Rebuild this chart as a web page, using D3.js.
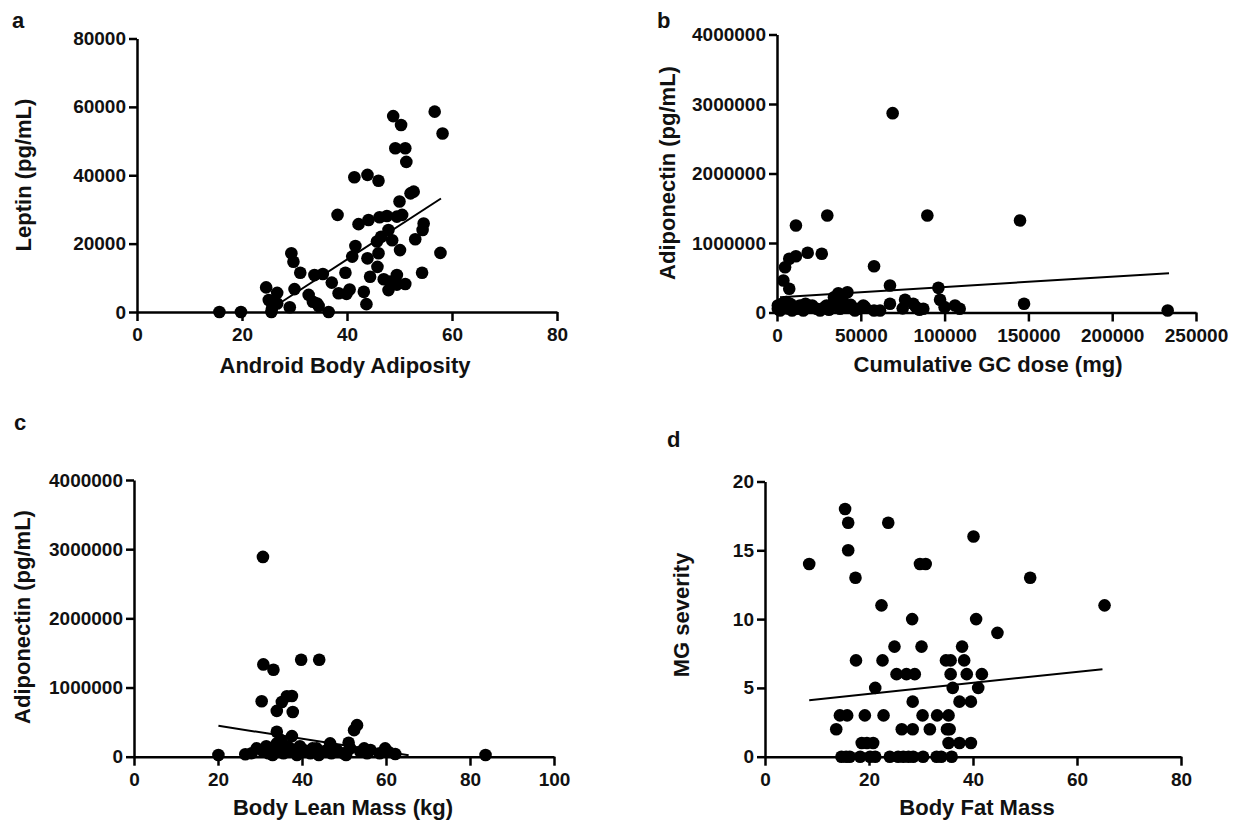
<!DOCTYPE html>
<html>
<head>
<meta charset="utf-8">
<style>
body { margin: 0; background: #fff; }
svg text { font-family: "Liberation Sans", Arial, sans-serif; fill: #111; }
.axis path, .axis line { stroke: #000; stroke-width: 2.5; }
.axis text { font-size: 19px; font-weight: bold; }
.title { font-size: 22px; font-weight: bold; }
.letter { font-size: 22px; font-weight: bold; }
</style>
</head>
<body>
<svg width="1237" height="825"></svg>
<script src="https://d3js.org/d3.v7.min.js"></script>
<script>
// panel a: leptin vs android adiposity
var leptinPts = [[15.7,0],[19.8,0],[24.6,7200],[25.1,3500],[26.7,5600],[25.7,1000],[25.6,0],[29.1,1400],
  [29.4,17200],[29.8,14700],[31.1,11500],[30.0,6700],[32.7,5000],[33.5,3000],[34.6,1750],[36.5,0],
  [33.8,10800],[35.4,11100],[37.1,8600],[38.2,28400],[39.7,11500],[38.4,5500],[40.5,6600],[39.9,5300],
  [43.2,5900],[43.7,2300],[41.0,16200],[41.6,19300],[41.4,39400],[43.9,40100],[46.0,38400],[42.2,25700],
  [44.1,26900],[46.2,27700],[47.6,28100],[43.9,15700],[44.4,10300],[45.8,13200],[46.0,17200],[46.5,22000],
  [47.9,24000],[48.6,21000],[47.0,9600],[47.9,6400],[49.5,10800],[51.1,8200],[50.1,18100],[50.5,28400],
  [50.0,32300],[52.1,34700],[52.7,35200],[48.8,57300],[50.3,54700],[49.2,47900],[51.1,47900],[51.3,43900],
  [56.7,58600],[58.2,52200],[53.0,21300],[54.6,25900],[54.4,24000],[54.3,11500],[57.8,17300],[49.5,27900],
  [34.3,2500],[26.7,2500],[49.5,8000],[45.7,20600],[48.2,8900]];
var leptinFit = [[27.6,3000],[57.9,33200]];

// panel b: adiponectin vs cumulative GC dose
var gcPts = [[69000,2868000],[30000,1396000],[89700,1396000],[145000,1324000],[11300,1252000],[18300,859000],
  [26700,845000],[11300,810000],[7300,773000],[4800,652000],[57900,666000],[3800,460000],[7300,341000],
  [67400,388000],[96300,355000],[97300,183000],[36600,278000],[42000,292000],[147400,125000],[233100,29000],
  [106200,101000],[76400,183000],[81300,125000],[87300,53000],[61500,29000],[67400,125000],[51500,101000],
  [500,53000],[500,101000],[1800,29000],[3800,77000],[7800,125000],[11700,53000],[13700,101000],[15700,29000],
  [19700,77000],[23700,53000],[25700,29000],[29600,101000],[33600,125000],[37600,53000],[41600,77000],
  [46500,29000],[48500,53000],[52500,77000],[9000,29000],[17000,125000],[21000,101000],[5500,150000],
  [100000,77000],[109000,53000],[83000,77000],[34000,220000],[39000,200000],[75000,60000],[85000,40000],
  [35000,130000],[57900,29000],[2500,120000],[6000,60000],[10000,90000],[14000,60000],[28000,70000],
  [44000,110000],[31000,40000]];
var gcFit = [[1800,221000],[233900,566000]];

// panel c: adiponectin vs lean mass
var leanPts = [[30.7,2888000],[30.8,1334000],[33.2,1257000],[39.8,1401000],[44.1,1401000],[30.4,801000],
  [34.0,662000],[35.2,791000],[36.4,873000],[37.6,878000],[37.8,647000],[53.1,456000],[52.4,384000],
  [34.0,360000],[37.6,298000],[20.1,24000],[26.5,35000],[83.7,24000],[59.8,121000],[62.2,39000],
  [46.7,193000],[51.1,201000],[56.3,96000],[29.2,121000],[30.8,72000],[32.4,96000],[34.0,193000],
  [35.6,49000],[37.2,121000],[38.8,24000],[40.4,96000],[42.0,49000],[43.5,121000],[45.1,72000],
  [48.3,96000],[49.9,49000],[51.5,121000],[53.9,72000],[55.5,49000],[31.5,150000],[33.0,24000],
  [35.0,240000],[36.5,150000],[39.5,150000],[41.0,72000],[44.0,24000],[47.0,49000],[50.5,24000],
  [54.8,121000],[58.5,49000],[28.0,49000],[60.5,72000],[32.0,49000],[38.0,72000],[42.5,121000],
  [46.0,96000],[33.5,121000],[36.0,96000]];
var leanFit = [[20.1,446000],[65.4,20000]];

// panel d: MG severity vs fat mass
var fatPts = [[15.4,18],[16.0,17],[23.7,17],[40.1,16],[16.0,15],[8.5,14],[29.8,14],[30.9,14],[17.4,13],
  [51.0,13],[22.4,11],[65.3,11],[28.3,10],[40.6,10],[44.7,9],[24.9,8],[30.1,8],[37.9,8],[17.5,7],[22.6,7],
  [34.8,7],[35.7,7],[38.3,7],[25.3,6],[27.2,6],[28.8,6],[35.7,6],[38.8,6],[41.7,6],[21.2,5],[36.1,5],
  [41.0,5],[28.4,4],[37.4,4],[39.6,4],[14.4,3],[15.8,3],[19.2,3],[22.8,3],[30.3,3],[33.1,3],[35.3,3],
  [13.7,2],[26.3,2],[28.4,2],[31.7,2],[35.0,2],[35.5,2],[18.6,1],[19.6,1],[20.8,1],[35.3,1],[37.4,1],
  [39.6,1],[14.7,0],[15.6,0],[16.3,0],[18.3,0],[20.2,0],[21.2,0],[24.0,0],[25.6,0],[26.6,0],[27.6,0],
  [28.5,0],[30.4,0],[33.0,0],[33.9,0],[35.9,0]];
var fatFit = [[8.5,4.11],[64.9,6.36]];

// tick values
var ticksAdip = [0,20,40,60,80];
var ticksLeptin = [0,20000,40000,60000,80000];
var ticksGC = [0,50000,100000,150000,200000,250000];
var ticksAdipo = [0,1000000,2000000,3000000,4000000];
var ticksLean = [0,20,40,60,80,100];
var ticksSev = [0,5,10,15,20];

var svg = d3.select("svg");

var panels = [
  {letter:"a", lx:12, ly:28, pts:leptinPts, fit:leptinFit,
   xd:[0,80], xr:[137,557], yd:[0,80000], yr:[312,38.5], xt:ticksAdip, yt:ticksLeptin,
   xlab:"Android Body Adiposity", xlx:345, xly:373, ylab:"Leptin (pg/mL)", ylx:31, yly:175},
  {letter:"b", lx:657, ly:28, pts:gcPts, fit:gcFit,
   xd:[0,250000], xr:[777,1196], yd:[0,4000000], yr:[312.5,34.5], xt:ticksGC, yt:ticksAdipo,
   xlab:"Cumulative GC dose (mg)", xlx:988, xly:372, ylab:"Adiponectin (pg/mL)", ylx:675, yly:173},
  {letter:"c", lx:14, ly:430, pts:leanPts, fit:leanFit,
   xd:[0,100], xr:[134,554], yd:[0,4000000], yr:[756.7,480], xt:ticksLean, yt:ticksAdipo,
   xlab:"Body Lean Mass (kg)", xlx:343, xly:815, ylab:"Adiponectin (pg/mL)", ylx:30, yly:617},
  {letter:"d", lx:667, ly:447, pts:fatPts, fit:fatFit,
   xd:[0,80], xr:[765,1181], yd:[0,20], yr:[756.7,481.5], xt:ticksAdip, yt:ticksSev,
   xlab:"Body Fat Mass", xlx:977, xly:815, ylab:"MG severity", ylx:689, yly:615}
];

panels.forEach(function(p) {
  var x = d3.scaleLinear().domain(p.xd).range(p.xr);
  var y = d3.scaleLinear().domain(p.yd).range(p.yr);
  var g = svg.append("g");

  g.append("g")
      .attr("class", "axis")
      .attr("transform", "translate(0," + p.yr[0] + ")")
      .call(d3.axisBottom(x).tickValues(p.xt).tickFormat(d3.format("d"))
        .tickSize(9).tickSizeOuter(0).tickPadding(7));

  g.append("g")
      .attr("class", "axis")
      .attr("transform", "translate(" + p.xr[0] + ",0)")
      .call(d3.axisLeft(y).tickValues(p.yt).tickFormat(d3.format("d"))
        .tickSize(8).tickSizeOuter(0).tickPadding(3));

  g.append("path")
      .datum(p.fit)
      .attr("fill", "none")
      .attr("stroke", "#000")
      .attr("stroke-width", 2)
      .attr("d", d3.line().x(function(d) { return x(d[0]); }).y(function(d) { return y(d[1]); }));

  g.selectAll("circle")
      .data(p.pts)
    .enter().append("circle")
      .attr("cx", function(d) { return x(d[0]); })
      .attr("cy", function(d) { return y(d[1]); })
      .attr("r", 6.3)
      .attr("fill", "#000");

  g.append("text").attr("class", "title")
      .attr("x", p.xlx).attr("y", p.xly)
      .attr("text-anchor", "middle")
      .text(p.xlab);

  g.append("text").attr("class", "title")
      .attr("transform", "translate(" + p.ylx + "," + p.yly + ") rotate(-90)")
      .attr("text-anchor", "middle")
      .text(p.ylab);

  g.append("text").attr("class", "letter")
      .attr("x", p.lx).attr("y", p.ly)
      .text(p.letter);
});
</script>
</body>
</html>
